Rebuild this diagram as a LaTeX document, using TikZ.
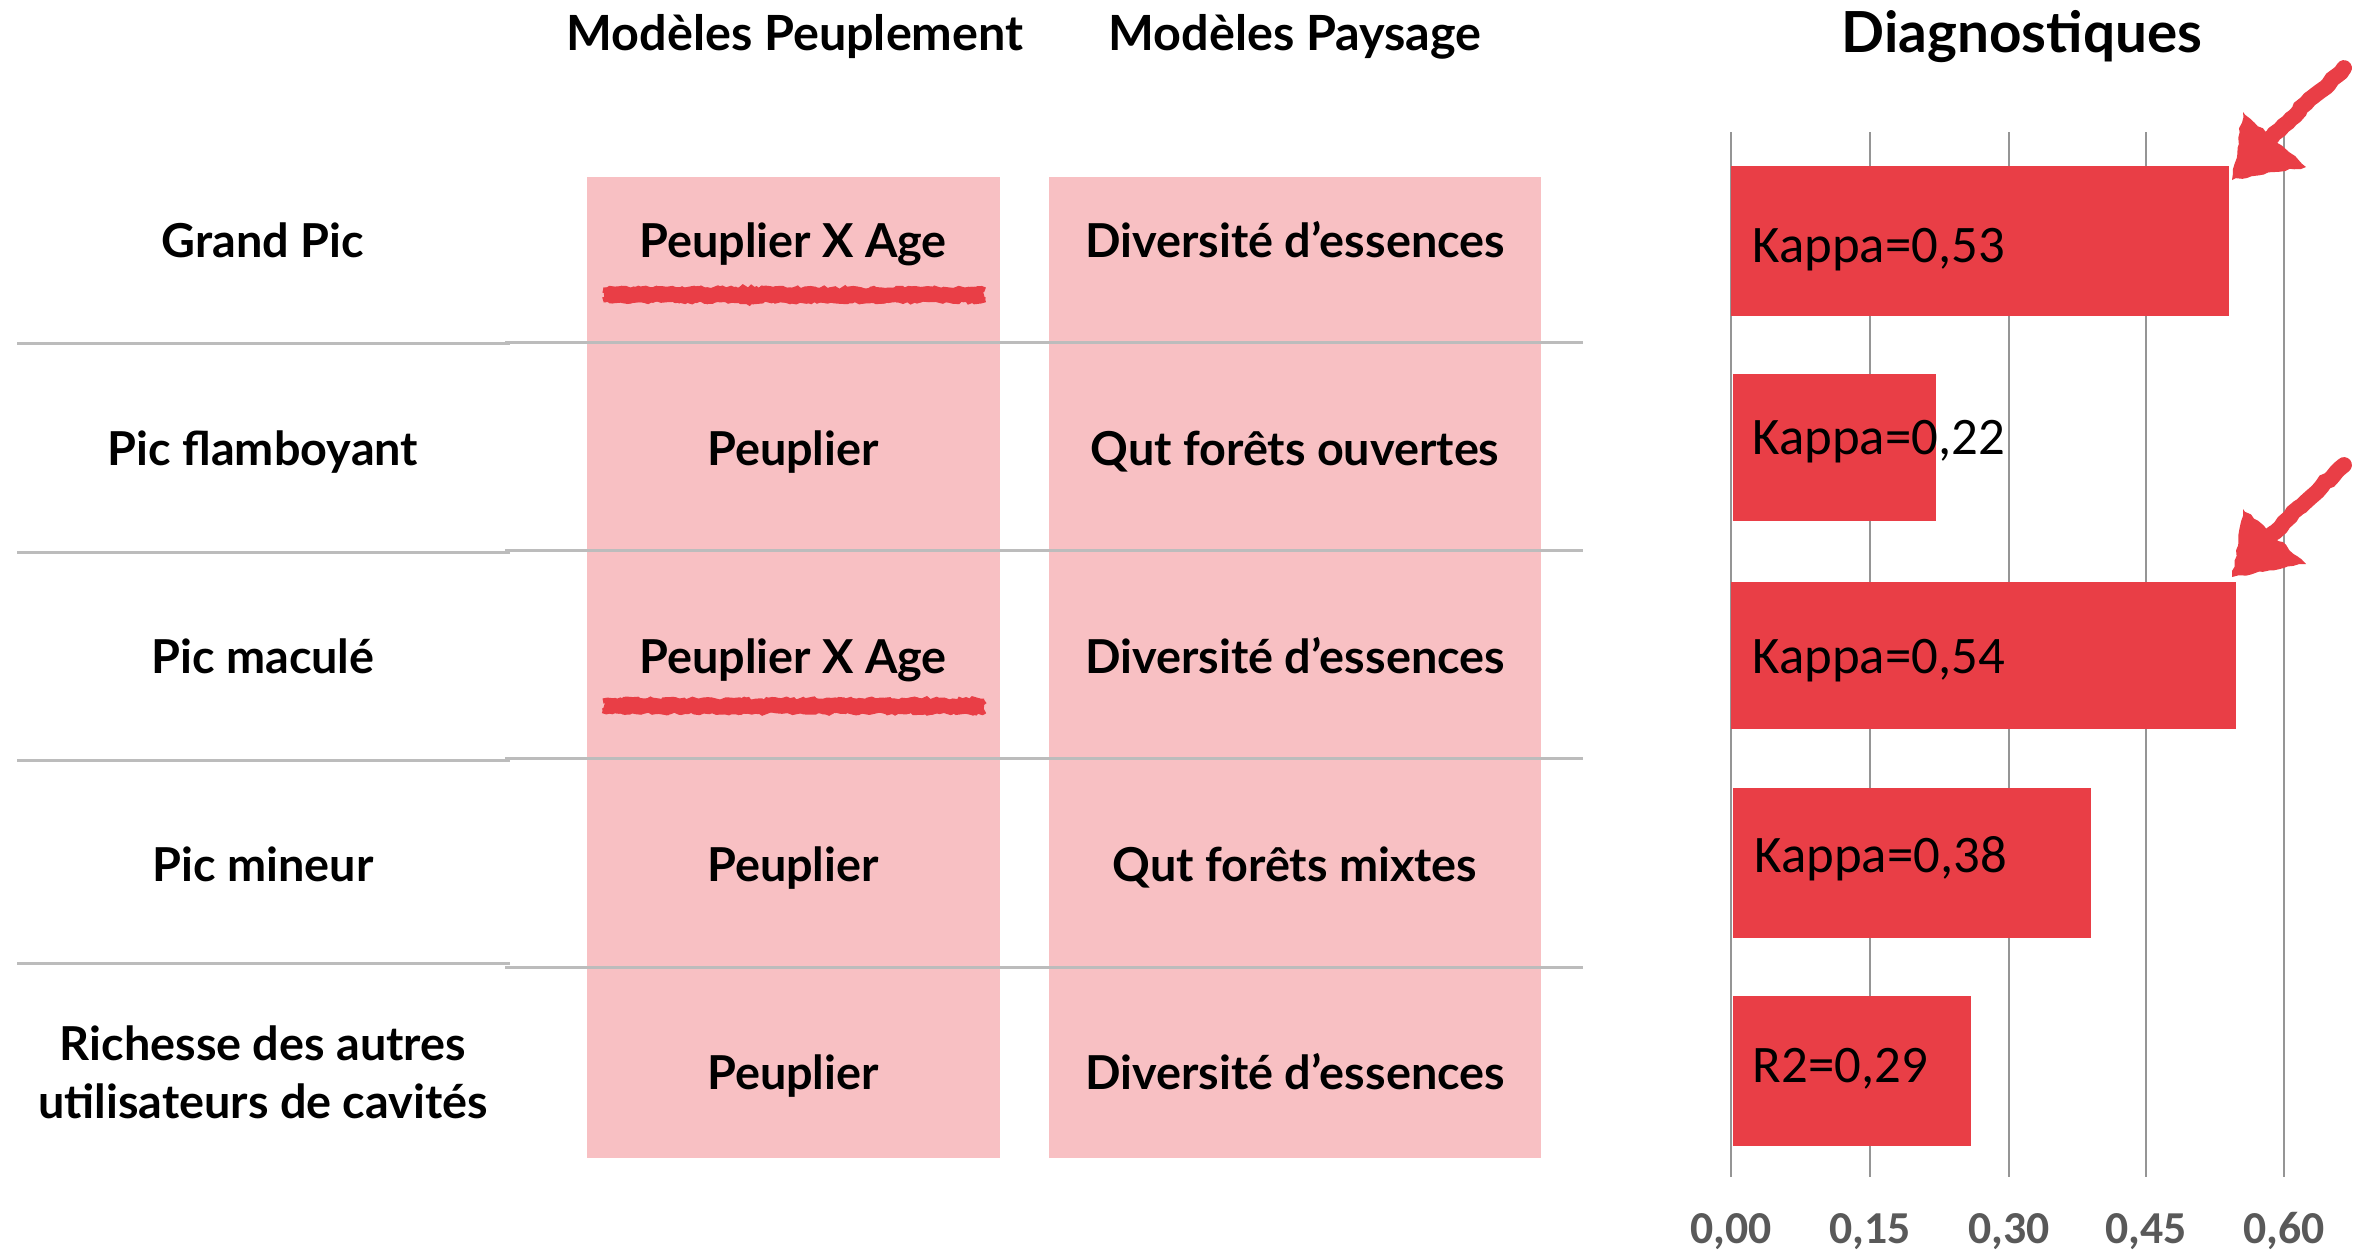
\documentclass[tikz,border=0pt]{standalone}
\usepackage{fontspec}
\setmainfont{Lato}
\newfontfamily\calib{Carlito}
\usetikzlibrary{decorations.pathmorphing}
\definecolor{pinkc}{HTML}{F8C0C3}
\definecolor{redc}{HTML}{E93E46}
\definecolor{gridc}{HTML}{959595}
\definecolor{linec}{HTML}{BCBCBC}
\definecolor{axc}{HTML}{595959}
\begin{document}
\begin{tikzpicture}[x=0.01cm,y=-0.01cm,
  lbl/.style={font=\fontsize{13.3}{16}\selectfont\bfseries, inner sep=0, anchor=base},
  head/.style={font=\fontsize{13.8}{16}\selectfont\bfseries, inner sep=0, anchor=base},
  title/.style={font=\fontsize{16.1}{19}\selectfont\bfseries, inner sep=0, anchor=base},
  kap/.style={font=\calib\fontsize{15}{18}\selectfont, inner sep=0, anchor=base west},
  axl/.style={font=\calib\bfseries\fontsize{13}{15}\selectfont, text=axc, inner sep=0, anchor=base},
  hline/.style={draw=linec, line width=0.85pt},
  gline/.style={draw=gridc, line width=0.75pt},
  barf/.style={fill=redc},
  scrib/.style={draw=redc, line width=4.2pt, decorate, decoration={random steps, segment length=1.2pt, amplitude=0.5pt}},
  chalk/.style={redc, decorate, decoration={random steps, segment length=1.5pt, amplitude=0.4pt}}
]
\pgfmathsetseed{7}
\useasboundingbox (0,0) rectangle (2359,1256);
\fill[white] (0,0) rectangle (2359,1256);

% pink columns
\fill[pinkc] (587,177) rectangle (1000,1158);
\fill[pinkc] (1049,177) rectangle (1541,1158);

% headers
\node[head] (h1) at (795,50) {Modèles Peuplement};
\node[head] (h2) at (1295,50) {Modèles Paysage};
\node[title] (h3) at (2022,52) {Diagnostiques};

% separator lines
\foreach \yl/\yr in {343/342, 552/550, 760/758, 963/967}{
  \draw[hline] (17,\yl) -- (510,\yl);
  \draw[hline] (505,\yr) -- (1583,\yr);
}

% row labels
\node[lbl] (r1) at (263,257) {Grand Pic};
\node[lbl] (r2) at (263,465) {Pic flamboyant};
\node[lbl] (r3) at (263,673) {Pic maculé};
\node[lbl] (r4) at (263,881) {Pic mineur};
\node[lbl] (r5a) at (263,1060) {Richesse des autres};
\node[lbl] (r5b) at (263,1118) {utilisateurs de cavités};

% column 1
\node[lbl] (p1) at (793,257) {Peuplier X Age};
\node[lbl] (p2) at (793,465) {Peuplier};
\node[lbl] (p3) at (793,673) {Peuplier X Age};
\node[lbl] (p4) at (793,881) {Peuplier};
\node[lbl] (p5) at (793,1089) {Peuplier};

% column 2
\node[lbl] (q1) at (1295,257) {Diversité d’essences};
\node[lbl] (q2) at (1295,465) {Qut forêts ouvertes};
\node[lbl] (q3) at (1295,673) {Diversité d’essences};
\node[lbl] (q4) at (1295,881) {Qut forêts mixtes};
\node[lbl] (q5) at (1295,1089) {Diversité d’essences};

% scribbled underlines
\foreach \yy in {295,706}{
  \draw[scrib] (604,\yy) -- (984,\yy);
  \draw[scrib, line width=1.5pt] (603,\yy-5) -- (985,\yy-5);
  \draw[scrib, line width=1.5pt] (603,\yy+5) -- (985,\yy+5);
}

% grid lines
\foreach \x in {1731,1870,2009,2146,2284}{
  \draw[gline] (\x,132) -- (\x,1177);
}

% bars
\fill[barf] (1731,166) rectangle (2229,316);
\fill[barf] (1733,374) rectangle (1936,521);
\fill[barf] (1731,582) rectangle (2236,729);
\fill[barf] (1733,788) rectangle (2091,938);
\fill[barf] (1733,996) rectangle (1971,1146);

% bar labels
\node[kap] (k1) at (1752,262) {Kappa=0,53};
\node[kap] (k2) at (1752,454) {Kappa=0,22};
\node[kap] (k3) at (1752,673) {Kappa=0,54};
\node[kap] (k4) at (1754,872) {Kappa=0,38};
\node[kap] (k5) at (1752,1082) {R2=0,29};

% axis labels
\node[axl] (a0) at (1731,1243) {0,00};
\node[axl] (a1) at (1870,1243) {0,15};
\node[axl] (a2) at (2009,1243) {0,30};
\node[axl] (a3) at (2146,1243) {0,45};
\node[axl] (a4) at (2284,1243) {0,60};

% hand-drawn arrows
\foreach \dy in {0,397}{
  \begin{scope}[yshift={-\dy*0.01cm}]
    \fill[chalk] (2243,112) -- (2232,180) -- (2306,167) -- cycle;
    \draw[chalk, draw=redc, line width=4.5pt, line cap=round] (2344,68) -- (2258,150);
  \end{scope}
}
\end{tikzpicture}
\end{document}
